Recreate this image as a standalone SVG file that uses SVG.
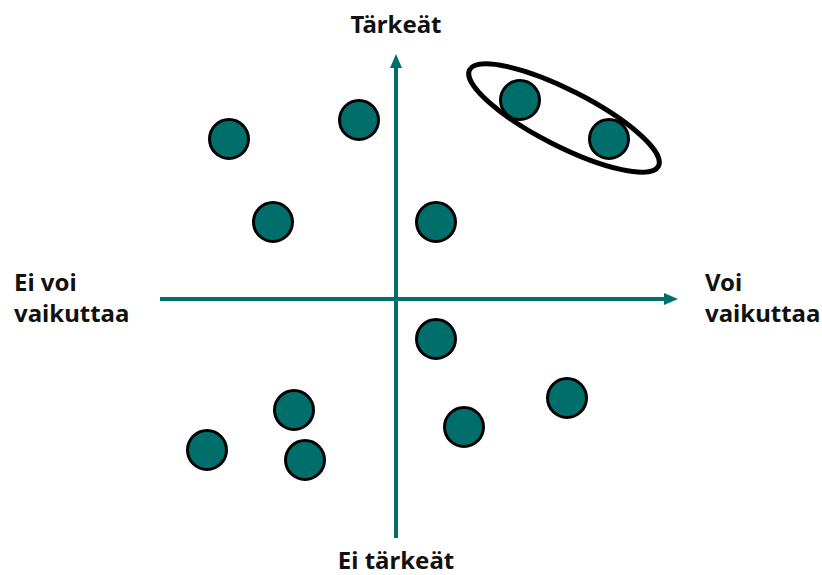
<svg xmlns="http://www.w3.org/2000/svg" width="822" height="575" viewBox="0 0 822 575">
<style>
.dot{fill:#006f6c;stroke:#000;stroke-width:3}
.ax{stroke:#006f6c;stroke-width:4;fill:none}
.lbl{font-family:"Noto Sans","Open Sans",sans-serif;font-weight:bold;font-size:24px;fill:#111}
</style>
<defs>
<marker id="ah" markerWidth="14" markerHeight="12" refX="4" refY="6" orient="auto" markerUnits="userSpaceOnUse" viewBox="0 0 14 12">
<path d="M0,0 L14,6 L0,12 z" fill="#006f6c"/>
</marker>
</defs>
<g id="connectors">
<line class="ax" x1="396" y1="538" x2="396" y2="64" marker-end="url(#ah)"/>
<line class="ax" x1="160" y1="299" x2="668" y2="299" marker-end="url(#ah)"/>
</g>
<g id="labels">
<text class="lbl" x="396" y="33" text-anchor="middle">Tärkeät</text>
<text class="lbl" x="396" y="569" text-anchor="middle">Ei tärkeät</text>
<text class="lbl" x="14" y="291">Ei voi</text>
<text class="lbl" x="14" y="322">vaikuttaa</text>
<text class="lbl" x="705" y="291">Voi</text>
<text class="lbl" x="705" y="322">vaikuttaa</text>
</g>
<g id="group-ellipse">
<ellipse cx="564" cy="118" rx="106" ry="28" transform="rotate(27 564 118)" fill="none" stroke="#000" stroke-width="5"/>
</g>
<g id="n1"><circle class="dot" cx="229" cy="139" r="19.5"/></g>
<g id="n2"><circle class="dot" cx="359" cy="120" r="19.5"/></g>
<g id="n3"><circle class="dot" cx="273" cy="222" r="19.5"/></g>
<g id="n4"><circle class="dot" cx="436" cy="222" r="19.5"/></g>
<g id="n5"><circle class="dot" cx="520" cy="100" r="19.5"/></g>
<g id="n6"><circle class="dot" cx="609" cy="139" r="19.5"/></g>
<g id="n7"><circle class="dot" cx="436" cy="339" r="19.5"/></g>
<g id="n8"><circle class="dot" cx="294" cy="410" r="19.5"/></g>
<g id="n9"><circle class="dot" cx="567" cy="398" r="19.5"/></g>
<g id="n10"><circle class="dot" cx="207" cy="450" r="19.5"/></g>
<g id="n11"><circle class="dot" cx="464" cy="427" r="19.5"/></g>
<g id="n12"><circle class="dot" cx="305" cy="460" r="19.5"/></g>
</svg>
